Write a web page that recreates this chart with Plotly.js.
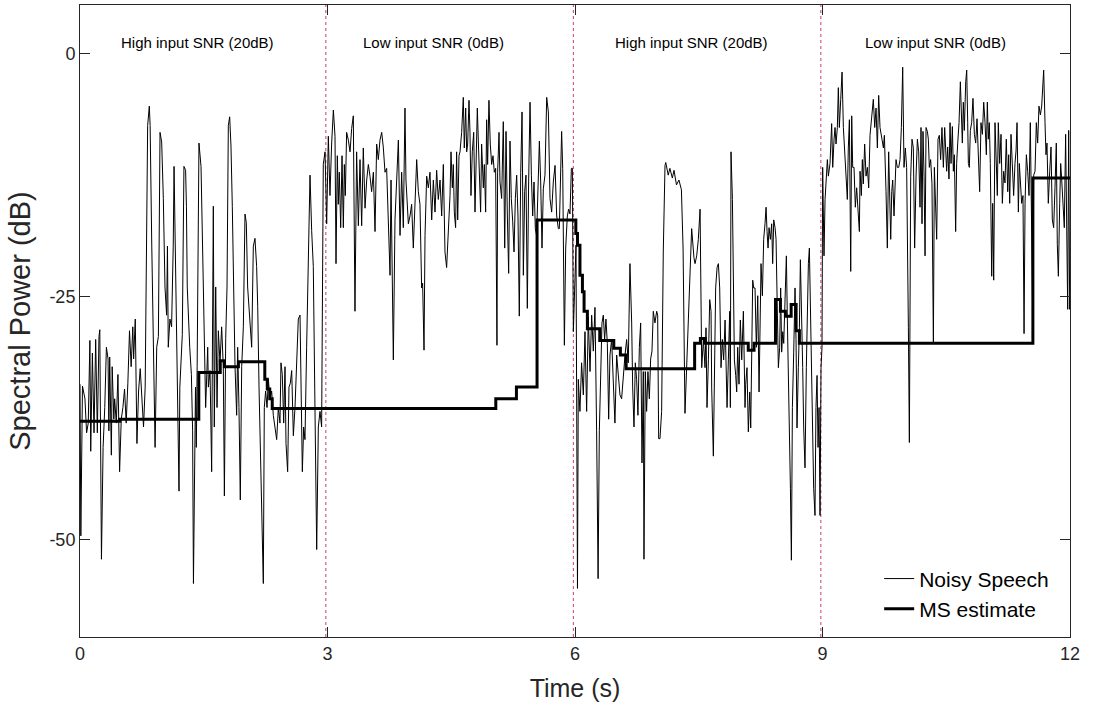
<!DOCTYPE html>
<html>
<head>
<meta charset="utf-8">
<script src="https://cdn.plot.ly/plotly-3.0.1.min.js"></script>
<style>html,body{margin:0;padding:0;background:#fff;}#chart{width:1093px;height:708px;}</style>
</head>
<body>
<div id="chart"></div>
<script>
// ---- Data ----
const noisyTime = [
0.00,0.01,0.03,0.06,0.08,0.10,0.12,0.13,0.15,0.17,0.19,0.21,0.23,0.24,0.26,0.28,0.30,0.32,0.34,0.35,
0.36,0.38,0.39,0.41,0.42,0.44,0.46,0.48,0.50,0.52,0.54,0.56,0.58,0.60,0.62,0.64,0.65,0.67,0.69,0.71,
0.73,0.75,0.77,0.79,0.81,0.82,0.84,0.85,0.87,0.89,0.91,0.93,0.95,0.97,0.99,1.01,1.03,1.05,1.06,1.07,
1.09,1.11,1.13,1.14,1.16,1.17,1.18,1.20,1.21,1.23,1.24,1.26,1.28,1.29,1.30,1.33,1.35,1.365,1.375,1.40,
1.41,1.42,1.442,1.467,1.483,1.507,1.523,1.548,1.556,1.576,1.596,1.616,1.628,1.645,1.661,1.677,1.697,1.717,1.737,1.750,
1.766,1.782,1.798,1.814,1.830,1.846,1.863,1.879,1.899,1.911,1.927,1.943,1.960,1.980,2.000,2.016,2.032,2.048,2.065,2.081,
2.101,2.121,2.141,2.154,2.170,2.186,2.202,2.222,2.234,2.250,2.267,2.283,2.303,2.323,2.343,2.364,2.384,2.404,2.424,2.436,
2.452,2.469,2.485,2.497,2.517,2.533,2.549,2.566,2.586,2.606,2.626,2.646,2.667,2.679,2.695,2.711,2.727,2.747,2.768,2.788,
2.808,2.828,2.848,2.869,2.889,2.909,2.929,2.949,2.970,2.990,
3.010,3.030,3.050,3.071,3.091,3.103,3.119,3.131,3.143,3.160,3.176,3.192,3.204,3.216,3.232,3.253,3.273,3.293,3.313,3.333,
3.353,3.374,3.394,3.414,3.434,3.455,3.475,3.495,3.515,3.535,3.556,3.576,3.596,3.616,3.636,3.657,3.677,3.697,3.717,3.737,
3.758,3.770,3.782,3.798,3.818,3.838,3.859,3.879,3.899,3.919,3.939,3.951,3.968,3.980,4.000,4.020,4.040,4.061,4.081,4.101,
4.121,4.141,4.153,4.170,4.182,4.202,4.222,4.242,4.263,4.283,4.303,4.323,4.343,4.364,4.384,4.404,4.424,4.444,4.465,4.485,
4.497,4.513,4.525,4.537,4.553,4.565,4.578,4.594,4.606,4.626,4.646,4.658,4.675,4.687,4.699,4.715,4.727,4.739,4.755,4.772,
4.788,4.800,4.816,4.828,4.840,4.856,4.868,4.889,4.901,4.917,4.929,4.941,4.957,4.973,4.990,5.006,5.022,5.038,5.054,5.062,
5.079,5.091,5.111,5.131,5.148,5.164,5.180,5.196,5.212,5.228,5.245,5.261,5.277,5.293,5.309,5.325,5.342,5.358,5.374,5.390,
5.406,5.422,5.438,5.455,5.471,5.487,5.503,5.519,5.535,5.552,5.568,5.584,5.600,5.616,5.636,5.657,5.677,5.697,5.717,5.737,
5.758,5.778,5.798,5.810,5.826,5.838,5.851,5.871,5.887,5.907,5.923,5.939,5.956,5.968,5.980,6.012,
6.030,6.040,6.060,6.080,6.101,6.121,6.141,6.161,6.182,6.202,6.222,6.242,6.262,6.280,6.295,6.311,6.327,6.343,6.359,6.375,
6.392,6.408,6.424,6.444,6.464,6.484,6.505,6.525,6.545,6.565,6.586,6.606,6.626,6.646,6.666,6.687,6.699,6.715,6.731,6.747,
6.763,6.780,6.796,6.812,6.828,6.836,6.852,6.868,6.884,6.901,6.917,6.933,6.949,6.969,6.990,7.002,7.014,7.030,7.050,7.070,
7.091,7.100,7.130,7.150,7.180,7.200,7.230,7.260,7.290,7.310,7.333,7.373,7.414,7.442,
7.455,7.475,7.495,7.516,7.528,7.536,7.556,7.576,7.588,7.600,7.617,7.633,7.649,7.657,7.677,7.689,7.705,7.722,7.738,7.754,
7.770,7.786,7.802,7.819,7.831,7.843,7.859,7.875,7.883,7.891,7.908,7.920,7.932,7.948,7.960,7.972,7.988,8.004,8.021,8.041,
8.061,8.069,8.085,8.101,8.118,8.130,8.142,8.154,8.166,8.182,8.198,8.215,8.231,8.247,8.255,8.271,8.287,8.303,8.316,8.328,
8.340,8.352,8.368,8.384,8.396,8.409,8.425,8.437,8.449,8.465,8.481,8.493,8.505,8.518,8.530,8.546,8.562,8.574,8.586,8.598,
8.611,8.623,8.635,8.651,8.667,8.679,8.691,8.707,8.720,8.732,8.748,8.760,8.772,8.788,8.804,8.817,8.829,8.841,8.857,8.869,
8.881,8.893,8.909,8.921,8.934,8.946,8.958,8.970,8.982,8.994,
9.002,9.018,9.031,9.043,9.059,9.071,9.091,9.111,9.124,9.140,9.152,9.164,9.180,9.192,9.204,9.221,9.237,9.253,9.269,9.285,
9.301,9.313,9.326,9.342,9.354,9.366,9.382,9.398,9.414,9.435,9.447,9.455,9.471,9.483,9.495,9.511,9.528,9.544,9.560,9.576,
9.596,9.616,9.633,9.649,9.665,9.681,9.697,9.709,9.721,9.738,9.750,9.770,9.786,9.802,9.818,9.827,9.839,9.851,9.867,9.879,
9.891,9.907,9.924,9.940,9.956,9.972,9.988,10.004,10.020,10.041,10.053,10.069,10.085,10.101,10.117,10.134,10.150,10.166,10.182,10.194,
10.206,10.218,10.231,10.243,10.255,10.271,10.283,10.295,10.311,10.327,10.344,10.356,10.372,10.384,10.400,10.416,10.432,10.448,10.465,10.481,
10.505,10.517,10.533,10.546,10.558,10.574,10.586,10.598,10.614,10.626,10.639,10.655,10.671,10.679,10.695,10.707,10.719,10.736,10.748,10.760,
10.768,10.780,10.792,10.808,10.824,10.841,10.857,10.873,10.889,10.905,10.921,10.938,10.954,10.970,10.986,10.998,11.010,11.022,11.034,11.051,
11.063,11.075,11.091,11.107,11.119,11.131,11.148,11.164,11.180,11.196,11.212,11.228,11.245,11.257,11.269,11.285,11.301,11.317,11.333,11.346,
11.358,11.374,11.386,11.398,11.414,11.430,11.443,11.455,11.471,11.487,11.503,11.519,11.535,11.548,11.560,11.576,11.592,11.608,11.624,11.641,
11.657,11.673,11.681,11.697,11.709,11.721,11.737,11.754,11.770,11.786,11.802,11.818,11.834,11.846,11.859,11.875,11.887,11.899,11.915,11.931,
11.947,11.960,11.972,11.984,11.996,12.000
];
const noisyDb = [
-34,-49.6,-34.2,-35.5,-39,-38,-29.5,-40.9,-30.8,-39,-29.4,-39,-29.1,-28.4,-52,-40.5,-36.4,-30.2,-31.4,-38.8,
-31.2,-41.3,-32.2,-37.6,-35.5,-38,-33,-43,-37.6,-36.4,-34.5,-38,-33.9,-28.5,-32.2,-28.1,-31.4,-27.3,-40.1,-34.7,
-32.4,-34.9,-38.4,-34.3,-19.8,-7.4,-5.4,-7.4,-19.8,-32.2,-40.5,-30.2,-29.1,-8.1,-9.1,-14.9,-24,-26.9,-19.8,-30.2,
-27.3,-28.1,-19.8,-11.6,-24,-30.2,-33,-45,-34.3,-30.6,-28.9,-11.6,-12,-15.7,-24,-30.2,-33,-38.8,-54.5,-34.3,
-40.5,-32.2,-9.2,-11.6,-19.8,-32.2,-36.4,-30.2,-34.3,-32.6,-43,-15.7,-38.4,-24,-36.4,-28.5,-31.8,-28.1,-32.2,-45.5,
-29.3,-24,-7.4,-6.5,-9.5,-15.7,-24,-32.2,-37.2,-30.2,-36.4,-45.9,-32.2,-28.1,-16.5,-17.4,-24,-26,-28.1,-30.2,
-19.8,-19,-21.9,-26,-34.3,-40.5,-46.7,-54.5,-36.4,-34.7,-36.4,-33.5,-35.5,-34.7,-37.2,-38.4,-39.7,-36.4,-38,-31.8,
-33,-38,-32.2,-40.1,-43,-34.3,-33.9,-32.6,-39.3,-36.4,-32.2,-27.3,-26.9,-32.2,-43,-38.4,-39.7,-30.2,-19.8,-12.5,
-18.2,-21.9,-36.4,-51,-38.4,-36.8,-38.4,-11.4,-10.1,-17.5,
-8.5,-14.6,-9.3,-5.8,-8.5,-21.6,-10.5,-15.5,-12.2,-17.9,-10.5,-17.9,-11.4,-14.6,-8.1,-8.9,-10.1,-7.7,-6.4,-26.5,
-10.1,-17.7,-10.9,-17.7,-9.7,-15.9,-13,-11.4,-12.6,-14.2,-12.2,-18.3,-9.3,-10.9,-8.9,-8.1,-9.7,-12.2,-11.8,-17.9,
-22.8,-13,-21.2,-31.5,-17.1,-13.4,-8.9,-18.7,-12.2,-17.9,-5.6,-13,-16.3,-17.5,-16.7,-15.5,-20,-14.2,-10.9,-14.2,
-15.5,-24.1,-23.6,-30.5,-18.7,-12.6,-13.8,-12.2,-17.1,-13,-16.3,-12,-15,-13,-16.7,-11.4,-20.4,-22,-18.7,-14.6,
-10.1,-13.8,-11.4,-16.3,-17.9,-10.1,-17.1,-10.5,-10.1,-8.1,-4.5,-9.7,-5.6,-10.1,-9.3,-4.8,-8.1,-14.6,-10.1,-8.1,
-16.3,-9.7,-5.6,-8.9,-12.2,-16.3,-9.3,-13.8,-11.4,-16.3,-6.8,-11.4,-4.8,-9.3,-11.4,-10.5,-12.2,-11.8,-30,-12.2,
-8.1,-13.2,-14.9,-7,-20,-8,-16.7,-22.6,-9,-14.9,-17.3,-20.4,-14.9,-12.5,-16.7,-27,-12.2,-6,-22.8,-14.2,
-12.5,-26.2,-13.2,-5,-12.5,-16.7,-13.2,-18,-18.7,-13.9,-9,-13.2,-20,-13.9,-12.5,-4.5,-6,-14.9,-16.3,-13.2,
-11.5,-16.7,-18,-18,-11.5,-8,-11.8,-30,-20,-16.7,-16,-16.5,-11.8,-11.8,-28.6,-19.7,
-55,-33.5,-36.8,-31.8,-35.1,-28.6,-36.8,-27.1,-32.7,-26.9,-30.6,-26.1,-38.8,-54,-38.8,-32.7,-27.7,-26.9,-29.4,-27.3,
-29.8,-37.6,-31,-29.4,-34.7,-38,-31,-32.7,-35.1,-35.5,-32.7,-31,-29.4,-31.8,-21.6,-27.7,-34.3,-38.4,-31.8,-33.5,
-37.2,-30.2,-27.7,-42.1,-32.7,-52,-32.7,-36.8,-32.7,-35.5,-31.4,-30.6,-26.5,-27.7,-26.5,-26.9,-39.6,-39.6,-36.8,-20.4,
-11.5,-11.2,-12.5,-11.8,-12.8,-12,-13.5,-13,-14,-20,-37,-27.4,-18,-21,
-21.6,-20.8,-19.1,-16,-24.1,-32.3,-29.4,-32.3,-28.2,-36.4,-31.5,-25.3,-26.5,-34.4,-41.4,-32.3,-24.1,-22,-21.6,-24.1,
-32.3,-29.4,-31.5,-27.4,-32.3,-36.4,-31.5,-26.5,-36.4,-10.1,-15,-24.1,-31.5,-33.1,-34.8,-30.2,-34,-27.4,-31.5,-26.5,
-36.4,-34,-32.3,-38.9,-34.8,-38.5,-30.7,-23.3,-24.1,-24.1,-30.2,-24.9,-34.8,-28.2,-21.6,-24.9,-19.1,-17.5,-15.8,-18.3,
-20,-17.9,-19.1,-17.5,-21.6,-17.1,-17.9,-19.1,-24.1,-32.3,-30.2,-24.1,-30.7,-28.6,-29.8,-23.7,-20.8,-27.4,-32.3,-36.4,
-44.7,-52.1,-36.4,-30.7,-24.1,-29.4,-38.5,-32.3,-28.2,-21.2,-26.5,-32.3,-38.5,-42.6,-32.3,-24.1,-21.6,-20,-26.5,-34.4,
-37.2,-44.7,-47.5,-36.4,-33.1,-40.5,-36.4,-47.5,-32.3,-30.2,
-11.7,-20.8,-15,-13.4,-10.9,-12.6,-11.3,-7.2,-11.7,-8.8,-7.6,-9.3,-7.6,-3.5,-7.6,-4.7,-1.9,-7.6,-10.1,-13.4,
-15,-9.7,-6.8,-22.4,-6.4,-11.7,-11.7,-15.8,-13.8,-16.7,-18.3,-12.1,-14.6,-10.9,-13.4,-9.3,-12.6,-11.7,-13.8,-8.4,
-6.8,-4.7,-7.6,-5.6,-9.7,-4.3,-7.6,-8.4,-8.8,-9.7,-8.4,-14.2,-20,-10.1,-18.3,-19.1,-14.2,-13,-16.7,-12.6,
-10.9,-11.7,-11.7,-10.9,-7.6,-1.4,-11.7,-9.7,-11.7,-28.2,-40,-12.6,-8.8,-9.7,-20,-12.6,-8.8,-10.1,-15.8,-7.6,
-17.5,-8,-12.6,-20.8,-7.6,-8,-8.8,-11.7,-10.9,-13.4,-29.8,-11.7,-17.5,-19.1,-8.8,-8.4,-10.9,-7.6,-11.7,-7.6,
-12.1,-9.6,-12.9,-7.1,-11.3,-7.5,-12.1,-10.4,-18.3,-11.3,-9.2,-7.1,-2.9,-5.4,-9.2,-5,-7.9,-2.9,-1.7,-7.1,
-11.3,-11.7,-7.9,-7.1,-4.6,-8.3,-9.2,-6.7,-10.4,-14.2,-7.1,-8.3,-5,-7.1,-10.4,-5,-8.8,-7.1,-11.3,-22.9,
-15.4,-23.3,-7.1,-11.3,-14.6,-7.1,-11.3,-8.3,-15.4,-12.1,-13.3,-8.8,-14.2,-10.4,-15.4,-8.3,-12.1,-14.6,-11.3,-10,
-7.1,-16.3,-11.3,-12.9,-15.4,-14.6,-28.8,-15.4,-10.4,-12.1,-14.6,-7.1,-19.6,-27.1,-12.5,-12.1,-7.1,-9.2,-5.4,-6.3,
-5.4,-2.9,-1.7,-7.1,-10.4,-9.2,-15.4,-12.1,-9.6,-17.1,-17.9,-13.8,-9.2,-19.6,-22.9,-15.4,-11.3,-12.9,-15.4,-17.9,
-8.3,-19.6,-26.3,-7.9,-26.3,-25
];
const msTime = [0,0.48,1.44,1.70,1.75,1.92,2.24,2.27,2.30,2.33,5.04,5.29,5.54,6.01,6.03,6.06,6.09,6.11,6.15,6.30,6.47,6.55,6.62,7.45,7.52,7.58,8.10,8.17,8.43,8.49,8.55,8.62,8.68,8.72,11.55,12.0];
const msDb   = [-37.8,-37.6,-32.8,-31.6,-32.2,-31.7,-33.5,-34.5,-35.5,-36.5,-35.5,-34.3,-17.1,-18.5,-19.7,-22.8,-24.5,-26.5,-28.3,-29.5,-30.3,-31,-32.4,-29.8,-29.3,-29.8,-30.5,-29.8,-25.3,-26.5,-27,-25.8,-28.5,-29.8,-12.8,-12.8];

const seriesNames = ['Noisy Speech', 'MS estimate'];
const regionBounds = [3, 6, 9];
const regionLabels = ['High input SNR (20dB)', 'Low input SNR (0dB)', 'High input SNR (20dB)', 'Low input SNR (0dB)'];
const regionLabelX = [1.42, 4.28, 7.41, 10.37];
const xTickVals = [0, 3, 6, 9, 12];
const yTickVals = [0, -25, -50];
const yTickText = ['0', '-25', '-50'];

const FONT = 'Liberation Sans, Arial, Helvetica, sans-serif';
const INK = '#262626';

const traces = [
  {x: noisyTime, y: noisyDb, type: 'scatter', mode: 'lines', name: seriesNames[0],
   line: {color: '#000', width: 1}},
  {x: msTime, y: msDb, type: 'scatter', mode: 'lines', name: seriesNames[1],
   line: {color: '#000', width: 3, shape: 'hv'}}
];

const shapes = regionBounds.map(b => ({
  type: 'line', xref: 'x', yref: 'paper', x0: b - 0.02, x1: b - 0.02, y0: 0, y1: 1,
  line: {color: 'rgb(205,60,100)', width: 1, dash: 'dot'}, layer: 'below'
}));

const annotations = regionLabels.map((t, i) => ({
  text: t, x: regionLabelX[i], xref: 'x', y: 0.94, yref: 'paper',
  showarrow: false, xanchor: 'center', yanchor: 'middle',
  font: {family: FONT, size: 15, color: '#000'}
}));

const layout = {
  width: 1093, height: 708,
  margin: {l: 80, r: 23, t: 5, b: 71},
  paper_bgcolor: '#fff', plot_bgcolor: '#fff',
  font: {family: FONT, color: INK},
  showlegend: true,
  legend: {x: 0.984, xanchor: 'right', y: 0.012, yanchor: 'bottom',
           bgcolor: 'rgba(0,0,0,0)', borderwidth: 0,
           font: {family: FONT, size: 21, color: '#000'}, itemwidth: 30, tracegroupgap: 0},
  xaxis: {range: [0, 12], tickvals: xTickVals, ticks: 'inside', ticklen: 10, tickcolor: INK,
          showline: true, linecolor: INK, linewidth: 1, mirror: 'ticks',
          showgrid: false, zeroline: false,
          tickfont: {family: FONT, size: 18, color: INK},
          title: {text: 'Time (s)', font: {family: FONT, size: 25, color: INK}, standoff: 16}},
  yaxis: {range: [-60, 5], tickvals: yTickVals, ticktext: yTickText, ticks: 'inside', ticklen: 10, tickcolor: INK,
          showline: true, linecolor: INK, linewidth: 1, mirror: 'ticks',
          showgrid: false, zeroline: false,
          tickfont: {family: FONT, size: 18, color: INK},
          title: {text: 'Spectral Power (dB)', font: {family: FONT, size: 29, color: INK}, standoff: 10}},
  shapes: shapes,
  annotations: annotations
};

Plotly.newPlot('chart', traces, layout, {displayModeBar: false, staticPlot: true});
</script>
</body>
</html>
